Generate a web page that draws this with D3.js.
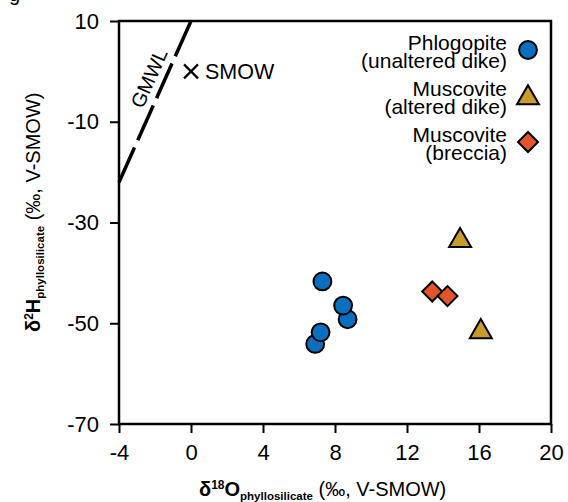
<!DOCTYPE html>
<html>
<head>
<meta charset="utf-8">
<script src="https://cdn.jsdelivr.net/npm/d3@7"></script>
<style>
  body { margin: 0; background: #fff; }
  text { font-family: "Liberation Sans", Arial, sans-serif; fill: #000; }
</style>
</head>
<body>
<div id="chart"></div>
<script>
// data
var xTicks = [-4, 0, 4, 8, 12, 16, 20];
var yTicks = [10, -10, -30, -50, -70];

var phlogopiteX = [6.9, 7.2, 8.7, 8.45, 7.3];
var phlogopiteY = [-54.1, -51.8, -49.2, -46.5, -41.7];

var muscAlteredX = [14.95, 16.1];
var muscAlteredY = [-33.2, -51.3];

var muscBrecciaX = [13.4, 14.25];
var muscBrecciaY = [-43.7, -44.6];

var gmwlX = [-4, 0];
var gmwlY = [-22, 10];

var smowX = 0, smowY = 0;

var seriesNames = [["Phlogopite", "(unaltered dike)"], ["Muscovite", "(altered dike)"], ["Muscovite", "(breccia)"]];
var colors = ["#0b6fbf", "#c99b2c", "#e4542a"];

var width = 568, height = 502;
var margin = { top: 21, right: 17, bottom: 78, left: 119 };

var svg = d3.select("#chart").append("svg")
  .attr("width", width)
  .attr("height", height);

var xScale = d3.scaleLinear()
  .domain([-4, 20])
  .range([margin.left, width - margin.right]);

var yScale = d3.scaleLinear()
  .domain([-70, 10])
  .range([height - margin.bottom, margin.top]);

// clipped panel letter from the figure above
svg.append("text").attr("x", 9).attr("y", 1).style("font-size", "20px").text("g");

/* axes */
var xAxis = d3.axisBottom(xScale).tickValues(xTicks).tickFormat(d => String(d))
  .tickSize(9).tickSizeOuter(0).tickPadding(8);
var yAxis = d3.axisLeft(yScale).tickValues(yTicks).tickFormat(d => String(d))
  .tickSize(9).tickSizeOuter(0).tickPadding(11);

var gx = svg.append("g").attr("transform", `translate(0,${height - margin.bottom})`).call(xAxis);
var gy = svg.append("g").attr("transform", `translate(${margin.left},0)`).call(yAxis);
[gx, gy].forEach(function (g) {
  g.select(".domain").remove();
  g.selectAll("line").attr("stroke", "#000").attr("stroke-width", 2);
  g.selectAll("text").attr("fill", "#000")
    .style("font-family", '"Liberation Sans", Arial, sans-serif')
    .style("font-size", "22px");
});
gx.selectAll("text").attr("dy", "0.85em");

// frame
svg.append("rect")
  .attr("x", xScale(-4)).attr("y", yScale(10))
  .attr("width", xScale(20) - xScale(-4))
  .attr("height", yScale(-70) - yScale(10))
  .attr("fill", "none").attr("stroke", "#000").attr("stroke-width", 2.5);

/* GMWL */
var line = d3.line().x(d => xScale(d[0])).y(d => yScale(d[1]));
svg.append("path")
  .attr("d", line(d3.zip(gmwlX, gmwlY)))
  .attr("fill", "none").attr("stroke", "#000")
  .attr("stroke-width", 3.5).attr("stroke-dasharray", "38,8");

var t = -1.57;
var ang = Math.atan2(yScale(gmwlY[0]) - yScale(gmwlY[1]), xScale(gmwlX[1]) - xScale(gmwlX[0])) * 180 / Math.PI;
svg.append("text")
  .attr("transform", `translate(${xScale(t)},${yScale(8 * t + 10)}) rotate(${-ang})`)
  .attr("y", -8)
  .attr("text-anchor", "middle")
  .style("font-size", "20px")
  .text("GMWL");

/* SMOW */
var sx = xScale(smowX), sy = yScale(smowY);
svg.append("path")
  .attr("d", `M${sx - 7},${sy - 7}L${sx + 7},${sy + 7}M${sx - 7},${sy + 7}L${sx + 7},${sy - 7}`)
  .attr("stroke", "#000").attr("stroke-width", 2.2);
svg.append("text").attr("x", sx + 14).attr("y", sy + 8)
  .style("font-size", "21.5px").text("SMOW");

/* markers */
var circleSym = d3.symbol().type(d3.symbolCircle).size(250);
var triSym = d3.symbol().type(d3.symbolTriangle).size(210);
var diaSym = d3.symbol().type(d3.symbolSquare).size(200);

function drawPoints(xs, ys, sym, color, rot, dy) {
  svg.append("g").selectAll("path")
    .data(d3.zip(xs, ys)).join("path")
    .attr("transform", d => `translate(${xScale(d[0])},${yScale(d[1]) + dy}) rotate(${rot})`)
    .attr("d", sym)
    .attr("fill", color).attr("stroke", "#000").attr("stroke-width", 2);
}
drawPoints(phlogopiteX, phlogopiteY, circleSym, colors[0], 0, 0);
drawPoints(muscAlteredX, muscAlteredY, triSym, colors[1], 0, 2);
drawPoints(muscBrecciaX, muscBrecciaY, diaSym, colors[2], 45, 0);

/* legend */
var legSyms = [[circleSym, 0, 0], [triSym, 0, 2], [diaSym, 45, 0]];
var legend = svg.append("g");
seriesNames.forEach(function (names, i) {
  var y0 = 50 + i * 46;
  var lt = legend.append("text").attr("text-anchor", "end").style("font-size", "21px");
  lt.append("tspan").attr("x", 507).attr("y", y0).text(names[0]);
  lt.append("tspan").attr("x", 507).attr("y", y0 + 18).text(names[1]);
  legend.append("path")
    .attr("transform", `translate(528,${y0 + legSyms[i][2]}) rotate(${legSyms[i][1]})`)
    .attr("d", legSyms[i][0])
    .attr("fill", colors[i]).attr("stroke", "#000").attr("stroke-width", 2);
});

/* axis titles */
var xt = svg.append("text").attr("x", 199).attr("y", 496).style("font-size", "20px");
xt.append("tspan").style("font-weight", "bold").text("δ");
xt.append("tspan").style("font-weight", "bold").style("font-size", "12px").attr("dy", -7).text("18");
xt.append("tspan").style("font-weight", "bold").attr("dy", 7).text("O");
xt.append("tspan").style("font-weight", "bold").style("font-size", "11.5px").attr("dy", 4).text("phyllosilicate");
xt.append("tspan").attr("dy", -4).text(" (‰, V-SMOW)");

var yt = svg.append("text")
  .attr("transform", "translate(40,332) rotate(-90)")
  .style("font-size", "20px");
yt.append("tspan").style("font-weight", "bold").text("δ");
yt.append("tspan").style("font-weight", "bold").style("font-size", "12px").attr("dy", -7).text("2");
yt.append("tspan").style("font-weight", "bold").attr("dy", 7).text("H");
yt.append("tspan").style("font-weight", "bold").style("font-size", "11.5px").attr("dy", 4).text("phyllosilicate");
yt.append("tspan").attr("dy", -4).text(" (‰, V-SMOW)");
</script>
</body>
</html>
